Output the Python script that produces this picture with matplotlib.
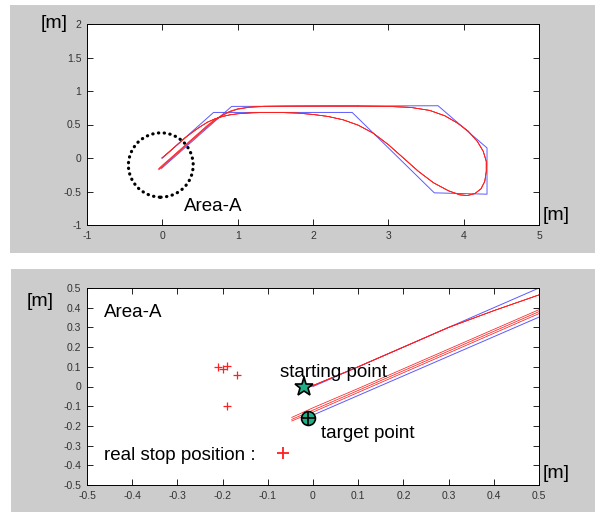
import matplotlib
matplotlib.use('Agg')
import matplotlib.pyplot as plt
from matplotlib.patches import Rectangle, Ellipse

plt.rcParams['font.family'] = ['Liberation Sans', 'DejaVu Sans']

# reference path (blue polyline)
path_x = [0.0, 0.68, 2.52, 3.61, 4.31, 4.31, 3.66, 0.92, -0.01]
path_y = [0.0, 0.68, 0.68, -0.52, -0.54, 0.15, 0.78, 0.77, -0.155]

# outgoing part of the real trajectory (shared by the runs)
out_x = [-0.005, 0.1, 0.2, 0.3, 0.4, 0.5, 0.6, 0.7, 0.8, 0.9, 1.0, 1.2, 1.4, 1.6, 1.8,
         2.0, 2.2, 2.4, 2.6, 2.8, 3.0, 3.2, 3.4, 3.6, 3.8, 3.95, 4.05, 4.15, 4.23, 4.28,
         4.30, 4.30, 4.26, 4.18, 4.06, 3.92, 3.75, 3.55, 3.3, 3.0, 2.6]
out_y = [0.0, 0.1, 0.2, 0.3, 0.385, 0.465, 0.535, 0.585, 0.62, 0.645, 0.66, 0.675, 0.68,
         0.678, 0.67, 0.65, 0.62, 0.57, 0.49, 0.37, 0.2, 0.0, -0.2, -0.37, -0.49, -0.55,
         -0.56, -0.53, -0.46, -0.35, -0.2, -0.05, 0.1, 0.25, 0.40, 0.52, 0.63, 0.71,
         0.755, 0.77, 0.775]

# return parts (three runs)
ret_x = [2.6, 2.2, 1.8, 1.6, 1.35, 1.15, 1.0, 0.9, 0.8, 0.7, 0.6, 0.5, 0.4, 0.3, 0.2,
         0.1, 0.0, -0.047]
ret1_y = [0.775, 0.775, 0.775, 0.775, 0.772, 0.76, 0.735, 0.70, 0.645, 0.575, 0.48,
          0.38, 0.28, 0.18, 0.08, -0.02, -0.12, -0.167]
ret2_y = [0.78, 0.78, 0.778, 0.776, 0.772, 0.758, 0.73, 0.695, 0.64, 0.575, 0.49,
          0.39, 0.29, 0.19, 0.09, -0.01, -0.108, -0.157]
ret3_y = [0.772, 0.772, 0.772, 0.771, 0.768, 0.755, 0.728, 0.69, 0.635, 0.56, 0.468,
          0.37, 0.27, 0.17, 0.07, -0.03, -0.13, -0.175]

start_pt = (-0.02, 0.0)
target_pt = (-0.01, -0.158)

stop_x = [-0.2095, -0.200, -0.190, -0.169, -0.190]
stop_y = [0.100, 0.089, 0.104, 0.058, -0.097]

top_xticks = [-1, 0, 1, 2, 3, 4, 5]
top_yticks = [-1, -0.5, 0, 0.5, 1, 1.5, 2]
top_ylabels = ['-1', '-0.5', '0', '0.5', '1', '1.5', '2']
bot_ticks = [-0.5, -0.4, -0.3, -0.2, -0.1, 0, 0.1, 0.2, 0.3, 0.4, 0.5]
bot_labels = ['-0.5', '-0.4', '-0.3', '-0.2', '-0.1', '0', '0.1', '0.2', '0.3', '0.4', '0.5']

W, H = 595, 512
fig = plt.figure(figsize=(W / 100, H / 100), dpi=100, facecolor='white')

# gray panels behind each axes
fig.patches.append(Rectangle((10 / W, 1 - 252.7 / H), 1 - 10 / W, 247.7 / H,
                             transform=fig.transFigure, facecolor='#cccccc',
                             edgecolor='none', zorder=-5))
fig.patches.append(Rectangle((11 / W, 0), 1 - 11 / W, 1 - 269 / H,
                             transform=fig.transFigure, facecolor='#cccccc',
                             edgecolor='none', zorder=-5))

ax1 = fig.add_axes([87 / W, 1 - 225 / H, 452 / W, 201 / H])
ax2 = fig.add_axes([87 / W, 1 - 485 / H, 452 / W, 197 / H])

blue = '#5a5aff'
red = '#ff2020'


def draw_paths(ax):
    ax.plot(path_x, path_y, color=blue, lw=0.7)
    for ry in (ret1_y, ret2_y, ret3_y):
        ax.plot(out_x + ret_x, out_y + ry, color=red, lw=0.55)


def style(ax):
    ax.set_facecolor('white')
    ax.tick_params(direction='in', length=4, width=0.6, top=True, right=True,
                   labelsize=7.5, labelcolor='#333333', pad=4)
    for s in ax.spines.values():
        s.set_linewidth(0.7)


draw_paths(ax1)
ax1.set_xlim(-1, 5)
ax1.set_ylim(-1, 2)
ax1.set_xticks(top_xticks)
ax1.set_xticklabels([str(t) for t in top_xticks])
ax1.set_yticks(top_yticks)
ax1.set_yticklabels(top_ylabels)
style(ax1)
circ = Ellipse((-0.02, -0.105), 0.86, 0.96, fill=False, edgecolor='black',
               lw=2.3, linestyle=(0, (0.1, 1.7)))
circ.set_capstyle('round')
ax1.add_patch(circ)
ax1.text(0.29, -0.79, 'Area-A', fontsize=13.5, va='baseline', ha='left')

draw_paths(ax2)
ax2.plot(stop_x, stop_y, '+', color=red, ms=6, mew=0.9, ls='none')
ax2.plot(*start_pt, marker='*', ms=14, mfc='#1fb08a', mec='black', mew=1.2)
ax2.plot(*target_pt, marker='o', ms=10, mfc='#1fb08a', mec='black', mew=1.2)
ax2.plot(*target_pt, marker='+', ms=10, mec='black', mew=1.2)
ax2.set_xlim(-0.5, 0.5)
ax2.set_ylim(-0.5, 0.5)
ax2.set_xticks(bot_ticks)
ax2.set_xticklabels(bot_labels)
ax2.set_yticks(bot_ticks)
ax2.set_yticklabels(bot_labels)
style(ax2)
ax2.text(-0.462, 0.354, 'Area-A', fontsize=13.5, va='baseline', ha='left')
ax2.text(-0.462, -0.373, 'real stop position :', fontsize=13.5, va='baseline', ha='left')
ax2.plot(-0.066, -0.34, '+', color=red, ms=9, mew=1.3)
ax2.text(-0.073, 0.05, 'starting point', fontsize=13.5, va='baseline', ha='left')
ax2.text(0.017, -0.263, 'target point', fontsize=13.5, va='baseline', ha='left')

# axis unit labels
fig.text(41 / W, 1 - 24 / H, '[m]', fontsize=14, va='center', ha='left')
fig.text(543 / W, 1 - 215.5 / H, '[m]', fontsize=14, va='center', ha='left')
fig.text(27 / W, 1 - 301 / H, '[m]', fontsize=14, va='center', ha='left')
fig.text(543 / W, 1 - 474 / H, '[m]', fontsize=14, va='center', ha='left')

fig.savefig('out.png', dpi=100)
